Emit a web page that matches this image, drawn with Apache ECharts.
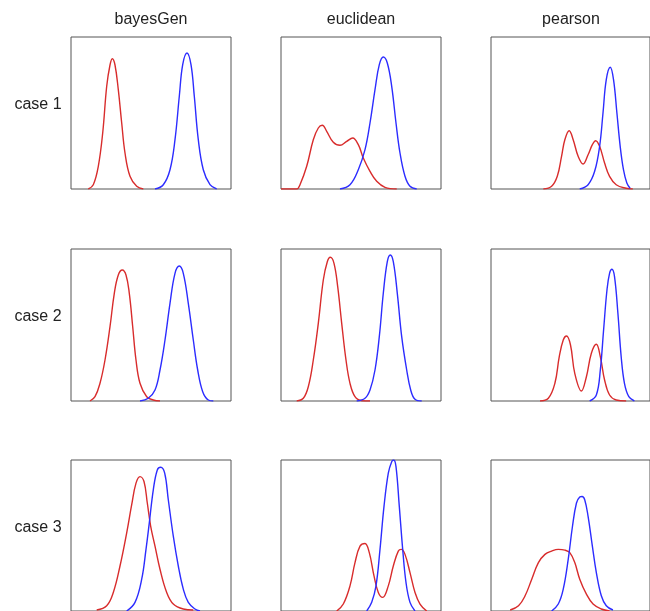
<!DOCTYPE html>
<html>
<head>
<meta charset="utf-8">
<script src="https://cdn.jsdelivr.net/npm/echarts@6/dist/echarts.min.js"></script>
<style>
  html, body { margin: 0; padding: 0; background: #fff; }
  #main { width: 650px; height: 611px; }
</style>
</head>
<body>
<div id="main"></div>
<script>
// column / row labels
const methods = ["bayesGen", "euclidean", "pearson"];
const cases = ["case 1", "case 2", "case 3"];

// density curves, [x, density] in panel units (x 0..160, y 0..152)
const red11 = [[17.3,0],[22.3,4.3],[27.3,22.7],[31.7,56],[35.7,102.7],[39,124],[41.3,130.3],[44,124],[47.3,99.3],[50.7,66],[54,36],[59,12.7],[65.7,2.7],[72.3,0]];
const blue11 = [[84,0],[92.3,4.3],[99,19.3],[104,49.3],[108.3,92.7],[111.7,124.3],[116,136],[120,124.3],[123.3,92.7],[127.3,49.3],[132.3,19.3],[139,4.3],[145.7,0]];
const red12 = [[0,0],[15.7,0],[19,4.3],[25.7,22.7],[32.3,49.3],[37.3,61],[41.3,63.7],[45.7,57.7],[52.3,46.7],[59,43.7],[65.7,47.7],[71.7,51],[77.3,44.3],[82.3,31],[89,17.7],[95.7,7.7],[104,1.7],[115.7,0]];
const blue12 = [[59,0],[69,4.3],[77.3,19.3],[84,39.3],[89,66],[94,99.3],[98.3,124.3],[102.3,132],[106.3,126],[110.7,102.7],[115,66],[119,36],[124,12.7],[129,2.7],[135.7,0]];
const red13 = [[52.7,0],[61,2.7],[66.7,12.7],[71,32.7],[74.3,49.3],[78.7,58.3],[82.7,49.3],[87.7,32.7],[92.7,25],[97.7,34.3],[102,44.3],[105.3,48.3],[109.3,42.7],[114.3,26],[119.3,12.7],[126,4.3],[136,0.7],[142.7,0]];
const blue13 = [[89.3,0],[97.7,4.3],[104.3,17.7],[109.3,42.7],[112.7,76],[116,109.3],[120,121.7],[123.3,109.3],[126.7,76],[130,42.7],[133.3,19.3],[136.7,6],[140,0.7]];

const red21 = [[19,0],[24,4.3],[29,17.7],[34,41],[39,74.3],[43.3,107.7],[47.3,126],[51.3,131],[55,126],[58.3,107.7],[61.7,74.3],[65,41],[69,17.7],[75.7,4.3],[82.3,1],[89,0]];
const blue21 = [[69,0],[77.3,2.7],[84,11],[89,31],[94,61],[99,97.7],[104,127.7],[108.3,135],[112.3,127.7],[117.3,97.7],[122.3,61],[126.7,31],[131.7,9.3],[137.3,1],[142.3,0]];
const red22 = [[15.7,0],[22.3,2.7],[27.3,14.3],[32.3,41],[37.3,77.7],[42.3,121],[46.3,139.3],[49.3,143.7],[53,137.7],[56.7,114.3],[60.7,77.7],[65,41],[69,17.7],[74,4.3],[80.7,0.3],[89,0]];
const blue22 = [[75.7,0],[84,2.7],[89,11],[94,31],[98.3,64.3],[102.3,107.7],[106.3,139.3],[109.3,146],[112.3,139.3],[116.3,107.7],[120.7,64.3],[125.7,31],[129.7,11],[134,1.7],[140.7,0]];
const red23 = [[49.3,0],[57.7,2.7],[64.3,17.7],[68.7,44.3],[72.7,61],[76,65],[80,56],[84.3,27.7],[91,10],[96,24.3],[101,47.7],[106,56.7],[110,44.3],[114.3,21],[119.3,6],[126,1],[136,0]];
const blue23 = [[99.3,0],[106,6],[110,31],[113.3,71],[116.7,111],[119.3,127.7],[121.7,131.7],[124.3,124.3],[127.7,87.7],[131,44.3],[134.3,17.7],[138.7,4.3],[144.3,0]];

const red31 = [[25.7,1],[35.7,5.3],[42.3,18.7],[49,45.3],[55.7,78.7],[60.7,107],[65,128.7],[69,135.3],[73,130.3],[76.3,108.7],[79.7,85.3],[84,65.3],[89,42],[95.7,18.7],[102.3,7],[112.3,2],[122.3,1]];
const blue31 = [[55.7,0],[64,8.7],[70.7,32],[75,62],[78.3,88.7],[82.3,122],[86.3,142],[89.7,144.7],[93.7,138.7],[97.3,112],[102.3,75.3],[107.3,45.3],[112.3,22],[117.3,8.7],[124,2],[129,0]];
const red32 = [[55.7,0],[62.3,7],[69,25.3],[74,48.7],[79,65.3],[84,68],[88.3,58.7],[93,35.3],[97.3,18.7],[101.7,13.7],[107.3,25.3],[112.3,45.3],[117.3,60.3],[120.3,62],[124,57],[129,38.7],[134,18.7],[139,7],[145.7,0]];
const blue32 = [[85.7,0],[90.7,8.7],[95,25.3],[99,62],[103,105.3],[107.3,138.7],[110.7,150.3],[112.7,152],[115,145.3],[118.3,105.3],[121.7,62],[125,28.7],[129,8.7],[134,0]];
const red33 = [[19.3,1],[27.7,5.3],[34.3,15.3],[41,32],[47.7,48.7],[54.3,57],[61,60.3],[67.7,62],[74.3,61.3],[79.3,58.7],[84.3,48.7],[89.3,32],[96,17],[102.7,7],[111,2],[119.3,0]];
const blue33 = [[61,0],[67.7,7],[72.7,22],[77.7,52],[82,85.3],[86,108.7],[89.3,114.7],[91.7,115.3],[94.3,112],[97.7,95.3],[102,65.3],[106,38.7],[111,15.3],[116,5.3],[122.7,1]];

const redCurves = [[red11, red12, red13], [red21, red22, red23], [red31, red32, red33]];
const blueCurves = [[blue11, blue12, blue13], [blue21, blue22, blue23], [blue31, blue32, blue33]];

const C = { red: "#d82c2c", blue: "#2c2cff", border: "#555555", text: "#222222" };
const colLeft = [71, 281, 491];
const rowTop = [37, 249, 460];
const panelW = 160, panelH = 152;

const chart = echarts.init(document.getElementById("main"));
const grid = [], xAxis = [], yAxis = [], series = [], graphic = [];

for (let r = 0; r < 3; r++) {
  for (let c = 0; c < 3; c++) {
    const i = r * 3 + c;
    grid.push({
      left: colLeft[c], top: rowTop[r], width: panelW, height: panelH,
      show: true, borderColor: C.border, borderWidth: 1, backgroundColor: "transparent"
    });
    xAxis.push({ gridIndex: i, type: "value", min: 0, max: 160, show: false });
    yAxis.push({ gridIndex: i, type: "value", min: 0, max: 152, show: false });
    [[redCurves[r][c], C.red], [blueCurves[r][c], C.blue]].forEach(function (p) {
      series.push({
        type: "line", xAxisIndex: i, yAxisIndex: i, data: p[0],
        smooth: 0.4, showSymbol: false, silent: true,
        lineStyle: { color: p[1], width: 1.4 }
      });
    });
  }
}

methods.forEach(function (m, c) {
  graphic.push({
    type: "text", x: colLeft[c] + panelW / 2, y: 20,
    style: { text: m, fill: C.text, font: "16px 'Liberation Sans', Arial, sans-serif", align: "center", verticalAlign: "middle" }
  });
});
cases.forEach(function (t, r) {
  graphic.push({
    type: "text", x: 38, y: rowTop[r] + 68,
    style: { text: t, fill: C.text, font: "16px 'Liberation Sans', Arial, sans-serif", align: "center", verticalAlign: "middle" }
  });
});

chart.setOption({
  animation: false,
  backgroundColor: "#fff",
  grid: grid,
  xAxis: xAxis,
  yAxis: yAxis,
  series: series,
  graphic: graphic
});
</script>
</body>
</html>
